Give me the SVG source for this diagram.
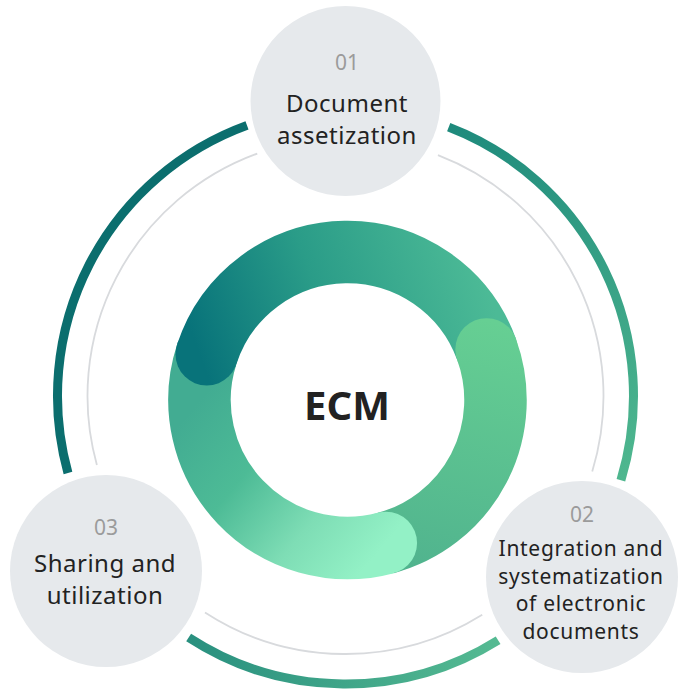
<svg xmlns="http://www.w3.org/2000/svg" width="686" height="690" viewBox="0 0 686 690">
<defs>
<style>
.node{fill:#E6E9EC}
.num{font-family:"Noto Sans","Liberation Sans",sans-serif;font-size:21px;fill:#9B9B9B;text-anchor:middle}
.lbl{font-family:"Noto Sans","Liberation Sans",sans-serif;font-size:24px;letter-spacing:0.5px;fill:#222;text-anchor:middle}
.lbl2{font-family:"Noto Sans","Liberation Sans",sans-serif;font-size:21px;letter-spacing:0.7px;fill:#222;text-anchor:middle}
.thick{fill:none;stroke-width:9}
.thin{fill:none;stroke:#D8DADD;stroke-width:1.8}
.seg{fill:none;stroke-width:62.5}
</style>
<linearGradient id="gRight" gradientUnits="userSpaceOnUse" x1="449" y1="127" x2="621" y2="480">
<stop offset="0" stop-color="#1E8A7C"/><stop offset="1" stop-color="#4FB78F"/>
</linearGradient>
<linearGradient id="gBottom" gradientUnits="userSpaceOnUse" x1="189" y1="638" x2="498" y2="640">
<stop offset="0" stop-color="#29907F"/><stop offset="1" stop-color="#55BA92"/>
</linearGradient>
<linearGradient id="g1" gradientUnits="userSpaceOnUse" x1="205" y1="370" x2="480" y2="270">
<stop offset="0" stop-color="#08737A"/><stop offset="0.45" stop-color="#2A9C88"/><stop offset="1" stop-color="#4CBA96"/>
</linearGradient>
<linearGradient id="g2" gradientUnits="userSpaceOnUse" x1="486" y1="320" x2="420" y2="575">
<stop offset="0" stop-color="#66CF93"/><stop offset="1" stop-color="#50B38E"/>
</linearGradient>
<linearGradient id="g3" gradientUnits="userSpaceOnUse" x1="380" y1="550" x2="200" y2="400">
<stop offset="0" stop-color="#93F1C6"/><stop offset="0.3" stop-color="#7EDDB5"/><stop offset="0.65" stop-color="#4DBB96"/><stop offset="1" stop-color="#42AC92"/>
</linearGradient>
</defs>
<rect width="686" height="690" fill="#FFFFFF"/>
<g id="connectors">
<path class="thick" stroke="#0B6E6E" d="M 67.97 472.97 A 288 288 0 0 1 247.0 125.37"/>
<path class="thick" stroke="url(#gRight)" d="M 448.71 127.13 A 288 288 0 0 1 620.91 480.20"/>
<path class="thick" stroke="url(#gBottom)" d="M 498.12 640.24 A 288 288 0 0 1 188.64 637.54"/>
<path class="thin" d="M 96.88 464.95 A 258 258 0 0 1 257.26 153.56"/>
<path class="thin" d="M 437.96 155.14 A 258 258 0 0 1 592.23 471.43"/>
<path class="thin" d="M 482.22 614.80 A 258 258 0 0 1 204.98 612.38"/>
</g>
<g id="ecm">
<path class="seg" stroke="url(#g3)" d="M 385.81 542.96 A 148 148 0 0 1 206.74 354.27"/>
<path class="seg" stroke="url(#g1)" d="M 206.74 354.27 A 148 148 0 0 1 486.57 349.38"/>
<path class="seg" stroke="url(#g2)" d="M 486.57 349.38 A 148 148 0 0 1 385.81 542.96"/>
<circle cx="206.74" cy="354.27" r="31.25" fill="url(#g1)"/>
<circle cx="486.57" cy="349.38" r="31.25" fill="url(#g2)"/>
<circle cx="385.81" cy="542.96" r="31.25" fill="url(#g3)"/>
<text x="347" y="420" font-family="'Noto Sans','Liberation Sans',sans-serif" font-size="40" font-weight="bold" fill="#222" text-anchor="middle">ECM</text>
</g>
<g id="node1">
<circle class="node" cx="345.5" cy="101" r="95"/>
<text class="num" x="347" y="70">01</text>
<text class="lbl" x="347" y="112">Document</text>
<text class="lbl" x="347" y="144">assetization</text>
</g>
<g id="node2">
<circle class="node" cx="582" cy="577" r="96"/>
<text class="num" x="582" y="522">02</text>
<text class="lbl2" x="581" y="556">Integration and</text>
<text class="lbl2" x="581" y="583.5">systematization</text>
<text class="lbl2" x="581" y="611">of electronic</text>
<text class="lbl2" x="581" y="638.5">documents</text>
</g>
<g id="node3">
<circle class="node" cx="106" cy="571" r="96"/>
<text class="num" x="106" y="535">03</text>
<text class="lbl" x="105" y="572">Sharing and</text>
<text class="lbl" x="105" y="604">utilization</text>
</g>
</svg>
